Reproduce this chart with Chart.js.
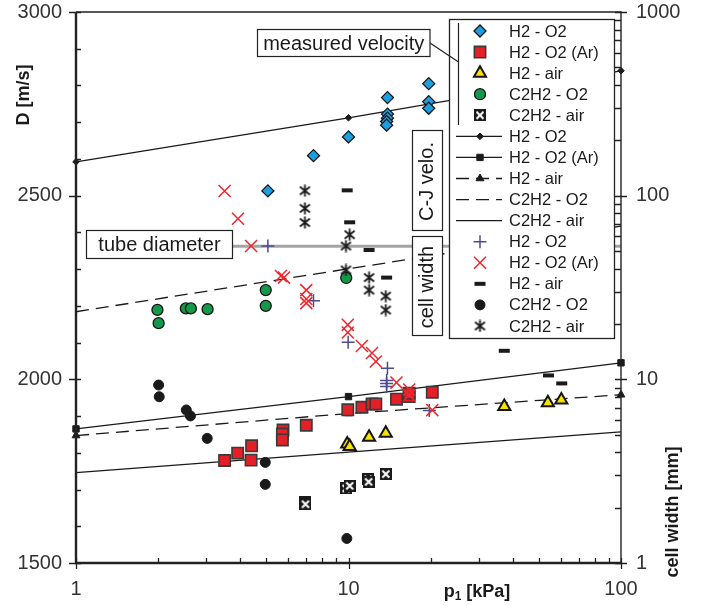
<!DOCTYPE html>
<html>
<head>
<meta charset="utf-8">
<script src="https://cdn.jsdelivr.net/npm/chart.js@4.4.0/dist/chart.umd.min.js"></script>
<style>
  html, body { margin: 0; padding: 0; background: #fff; }
  #chart { display: block; }
</style>
</head>
<body>
<canvas id="chart" width="707" height="606"></canvas>
<script>
const FONT = '"Liberation Sans", Arial, sans-serif';

// C-J velocities at 1, 10 and 100 kPa
const cjP = [1, 10, 100];
const cjH2O2 = [2592, 2712, 2840];
const cjH2O2Ar = [1865, 1953, 2045];
const cjH2Air = [1847, 1907, 1958];
const cjC2H2O2 = [2184, 2301, 2417];
const cjC2H2Air = [1746, 1802, 1857];

// measured detonation velocity [m/s] vs p1 [kPa]
const velH2O2P = [5.06, 7.44, 10.0, 13.9, 13.9, 13.9, 13.8, 13.8, 19.7, 19.7, 19.7];
const velH2O2 = [2513, 2609, 2660, 2767, 2722, 2711, 2702, 2692, 2805, 2756, 2738];
const velH2O2ArP = [3.51, 3.92, 4.39, 4.41, 5.75, 5.72, 5.72, 7.0, 9.94, 11.2, 12.2, 12.6, 15.0, 16.7, 16.7, 20.3];
const velH2O2Ar = [1779, 1799, 1780, 1819, 1862, 1851, 1835, 1875, 1917, 1924, 1933, 1933, 1946, 1953, 1962, 1965];
const velH2AirP = [9.89, 10.1, 11.9, 13.7, 37.3, 53.9, 60.4];
const velH2Air = [1824, 1817, 1842, 1853, 1926, 1936, 1944];
const velC2H2O2P = [1.99, 2.01, 2.53, 2.64, 3.04, 4.97, 4.97, 9.81];
const velC2H2O2 = [2189, 2153, 2193, 2193, 2191, 2243, 2200, 2276];
const velC2H2AirP = [6.9, 6.95, 9.8, 10.1, 11.8, 11.85, 13.7];
const velC2H2Air = [1665, 1660, 1703, 1710, 1728, 1721, 1742];

// cell width [mm] vs p1 [kPa]
const cellH2O2P = [5.06, 7.44, 9.97, 13.9, 13.8, 13.8, 13.8, 19.8];
const cellH2O2 = [53.2, 26.8, 15.9, 11.5, 9.85, 9.5, 9.15, 6.77];
const cellH2O2ArP = [3.51, 3.93, 4.39, 5.65, 5.8, 7.0, 7.0, 7.0, 9.94, 9.94, 11.2, 12.2, 12.6, 15.0, 16.7, 16.7, 20.3];
const cellH2O2Ar = [106, 74.9, 53.2, 36.5, 35.8, 30.6, 27.4, 26.0, 19.8, 18.0, 15.2, 13.9, 12.5, 9.6, 8.8, 8.2, 6.8];
const cellH2AirP = [9.89, 10.1, 11.9, 13.8, 37.3, 54.2, 60.6];
const cellH2Air = [106.9, 71.6, 50.6, 35.8, 14.3, 10.5, 9.5];
const cellC2H2O2P = [2.01, 2.02, 2.54, 2.63, 3.03, 4.95, 4.95, 9.86];
const cellC2H2O2 = [9.31, 8.04, 6.81, 6.32, 4.77, 3.53, 2.68, 1.36];
const cellC2H2AirP = [6.92, 6.92, 6.92, 10.1, 9.79, 9.79, 11.9, 11.9, 13.7, 13.7];
const cellC2H2Air = [106.4, 85.3, 71.4, 61.3, 53.2, 39.4, 35.8, 30.6, 28.4, 23.85];

// tube diameter [mm]
const tubeP = [3.7, 100];
const tubeDiameter = 53;

const xTicks = [1, 10, 100];
const yTicks = [1500, 2000, 2500, 3000];
const y2Ticks = [1, 10, 100, 1000];

function pts(xs, ys) {
  return xs.map((x, i) => ({ x: x, y: ys[i] }));
}

// black square with a white cross
function boxCross() {
  const c = document.createElement('canvas');
  c.width = 12; c.height = 12;
  const g = c.getContext('2d');
  g.fillStyle = '#1a1a1a';
  g.fillRect(0, 0, 12, 12);
  g.strokeStyle = '#fff';
  g.lineWidth = 2;
  g.beginPath();
  g.moveTo(2.5, 2.5); g.lineTo(9.5, 9.5);
  g.moveTo(9.5, 2.5); g.lineTo(2.5, 9.5);
  g.stroke();
  return c;
}

// six-spoke asterisk
function asterisk() {
  const c = document.createElement('canvas');
  c.width = 13; c.height = 13;
  const g = c.getContext('2d');
  g.strokeStyle = '#1a1a1a';
  g.lineWidth = 1.8;
  g.beginPath();
  g.moveTo(6.5, 0.5); g.lineTo(6.5, 12.5);
  g.moveTo(1.5, 2.5); g.lineTo(11.5, 10.5);
  g.moveTo(11.5, 2.5); g.lineTo(1.5, 10.5);
  g.stroke();
  return c;
}

function marks(label, xs, ys, axis, style) {
  return Object.assign({
    label: label,
    data: pts(xs, ys),
    yAxisID: axis,
    showLine: false,
    clip: false
  }, style);
}

function cjLine(label, ys, style) {
  return Object.assign({
    label: label,
    data: pts(cjP, ys),
    yAxisID: 'y',
    showLine: true,
    clip: false,
    borderColor: '#1a1a1a',
    borderWidth: 1.3,
    pointRadius: 0,
    pointBackgroundColor: '#1a1a1a',
    pointBorderColor: '#1a1a1a',
    pointBorderWidth: 1,
    order: 20
  }, style);
}

const datasets = [
  marks('H2 - O2', velH2O2P, velH2O2, 'y', {
    pointStyle: 'rectRot', pointRadius: 6, pointBackgroundColor: '#1a9fe0',
    pointBorderColor: '#151515', pointBorderWidth: 1.3, order: 5 }),
  marks('H2 - O2 (Ar)', velH2O2ArP, velH2O2Ar, 'y', {
    pointStyle: 'rect', pointRadius: 8, pointBackgroundColor: '#e51f26',
    pointBorderColor: '#3a3a3a', pointBorderWidth: 1.6, order: 6 }),
  marks('H2 - air', velH2AirP, velH2Air, 'y', {
    pointStyle: 'triangle', pointRadius: 7, pointBackgroundColor: '#f6e400',
    pointBorderColor: '#151515', pointBorderWidth: 2, order: 5 }),
  marks('C2H2 - O2', velC2H2O2P, velC2H2O2, 'y', {
    pointStyle: 'circle', pointRadius: 5.5, pointBackgroundColor: '#14984a',
    pointBorderColor: '#151515', pointBorderWidth: 1.3, order: 5 }),
  marks('C2H2 - air', velC2H2AirP, velC2H2Air, 'y', {
    pointStyle: boxCross(), pointRadius: 6, order: 5 }),

  cjLine('H2 - O2', cjH2O2, { pointStyle: 'rectRot', pointRadius: 3.3 }),
  cjLine('H2 - O2 (Ar)', cjH2O2Ar, { pointStyle: 'rect', pointRadius: 4.5 }),
  cjLine('H2 - air', cjH2Air, { pointStyle: 'triangle', pointRadius: 4.5, borderDash: [13, 7] }),
  cjLine('C2H2 - O2', cjC2H2O2, { borderDash: [13, 7] }),
  cjLine('C2H2 - air', cjC2H2Air, {}),

  marks('H2 - O2', cellH2O2P, cellH2O2, 'y2', {
    pointStyle: 'cross', pointRadius: 6.5, pointBorderColor: '#4b4b8e',
    pointBorderWidth: 1.5, order: 2 }),
  marks('H2 - O2 (Ar)', cellH2O2ArP, cellH2O2Ar, 'y2', {
    pointStyle: 'crossRot', pointRadius: 8.5, pointBorderColor: '#ef262c',
    pointBorderWidth: 1.5, order: 1 }),
  marks('H2 - air', cellH2AirP, cellH2Air, 'y2', {
    pointStyle: 'line', pointRadius: 5.5, pointBorderColor: '#1a1a1a',
    pointBorderWidth: 4, order: 2 }),
  marks('C2H2 - O2', cellC2H2O2P, cellC2H2O2, 'y2', {
    pointStyle: 'circle', pointRadius: 5, pointBackgroundColor: '#1a1a1a',
    pointBorderColor: '#1a1a1a', pointBorderWidth: 1, order: 2 }),
  marks('C2H2 - air', cellC2H2AirP, cellC2H2Air, 'y2', {
    pointStyle: asterisk(), pointRadius: 6, order: 2 }),

  {
    label: 'tube diameter',
    data: pts(tubeP, tubeP.map(() => tubeDiameter)),
    yAxisID: 'y2',
    showLine: true,
    pointRadius: 0,
    borderColor: '#a4a4a4',
    borderWidth: 3,
    order: 30
  }
];

// axes frame with inside/outside tick marks
const axesFrame = {
  id: 'axesFrame',
  afterDatasetsDraw(chart) {
    const ctx = chart.ctx;
    const a = chart.chartArea;
    const sx = chart.scales.x, sy = chart.scales.y, sy2 = chart.scales.y2;
    ctx.save();
    ctx.strokeStyle = '#222';
    ctx.lineWidth = 1.4;
    ctx.beginPath();
    ctx.moveTo(a.left, a.top); ctx.lineTo(a.right, a.top); ctx.lineTo(a.right, a.bottom);
    ctx.stroke();
    ctx.lineWidth = 2.4;
    ctx.beginPath();
    ctx.moveTo(a.left, a.top); ctx.lineTo(a.left, a.bottom); ctx.lineTo(a.right, a.bottom);
    ctx.stroke();

    ctx.lineWidth = 1.3;
    ctx.beginPath();
    for (let v = 1500; v <= 3000; v += 100) {
      const y = Math.round(sy.getPixelForValue(v)) + 0.5;
      const major = v % 500 === 0;
      ctx.moveTo(a.left - (major ? 7 : 0), y);
      ctx.lineTo(a.left + 5, y);
    }
    for (let d = 1; d < 100; d *= 10) {
      for (let m = 1; m < 10; m++) {
        const x = Math.round(sx.getPixelForValue(d * m)) + 0.5;
        ctx.moveTo(x, a.bottom + (m === 1 ? 6 : 0));
        ctx.lineTo(x, a.bottom - 5);
      }
    }
    const x100 = Math.round(sx.getPixelForValue(100)) + 0.5;
    ctx.moveTo(x100, a.bottom + 6); ctx.lineTo(x100, a.bottom - 5);
    for (let d = 1; d < 1000; d *= 10) {
      for (let m = 1; m < 10; m++) {
        const y = Math.round(sy2.getPixelForValue(d * m)) + 0.5;
        ctx.moveTo(a.right - 6, y);
        ctx.lineTo(a.right + (m === 1 ? 6 : 0), y);
      }
    }
    const y1000 = Math.round(sy2.getPixelForValue(1000)) + 0.5;
    ctx.moveTo(a.right - 6, y1000); ctx.lineTo(a.right + 6, y1000);
    ctx.stroke();
    ctx.restore();
  }
};

function textBox(ctx, x, y, w, h, text, vertical) {
  ctx.fillStyle = '#fff';
  ctx.fillRect(x, y, w, h);
  ctx.strokeStyle = '#222';
  ctx.lineWidth = 1.2;
  ctx.strokeRect(x, y, w, h);
  ctx.save();
  ctx.translate(x + w / 2, y + h / 2 + 1);
  if (vertical) ctx.rotate(-Math.PI / 2);
  ctx.fillStyle = '#1a1a1a';
  ctx.font = '20px ' + FONT;
  ctx.textAlign = 'center';
  ctx.textBaseline = 'middle';
  ctx.fillText(text, 0, 0);
  ctx.restore();
}

// labels, legend and axis titles
const notes = {
  id: 'notes',
  afterDraw(chart) {
    const ctx = chart.ctx;
    ctx.save();

    // legend
    const lx = 449.5, ly = 19.5, lw = 165, lh = 319;
    ctx.fillStyle = '#fff';
    ctx.fillRect(lx, ly, lw, lh);
    ctx.strokeStyle = '#222';
    ctx.lineWidth = 1.3;
    ctx.strokeRect(lx, ly, lw, lh);

    ctx.font = '16.5px ' + FONT;
    ctx.textBaseline = 'middle';
    ctx.textAlign = 'left';
    for (let i = 0; i < 15; i++) {
      const ds = chart.data.datasets[i];
      const y = 31 + i * 21.07;
      if (ds.showLine) {
        ctx.save();
        ctx.strokeStyle = ds.borderColor;
        ctx.lineWidth = ds.borderWidth;
        ctx.setLineDash(ds.borderDash || []);
        ctx.beginPath();
        ctx.moveTo(456, y); ctx.lineTo(502, y);
        ctx.stroke();
        ctx.restore();
      }
      if (ds.pointRadius > 0) {
        ctx.save();
        ctx.fillStyle = ds.pointBackgroundColor || '#000';
        ctx.strokeStyle = ds.pointBorderColor || '#000';
        ctx.lineWidth = ds.pointBorderWidth || 1;
        Chart.helpers.drawPoint(ctx, {
          pointStyle: ds.pointStyle,
          radius: ds.pointRadius,
          rotation: 0,
          borderWidth: ds.pointBorderWidth || 0
        }, 480, y);
        ctx.restore();
      }
      ctx.fillStyle = '#1a1a1a';
      ctx.fillText(ds.label, 509, y + 1);
    }

    // bracket for the measured velocity group
    ctx.strokeStyle = '#222';
    ctx.lineWidth = 1.2;
    ctx.beginPath();
    ctx.moveTo(458.5, 23); ctx.lineTo(458.5, 125);
    ctx.moveTo(430, 43); ctx.lineTo(458.5, 62);
    ctx.stroke();

    textBox(ctx, 257.5, 29.5, 172.5, 27, 'measured velocity', false);
    textBox(ctx, 86.5, 230.5, 146, 28, 'tube diameter', false);
    textBox(ctx, 412.5, 130.5, 30, 100, 'C-J velo.', true);
    textBox(ctx, 412.5, 236.5, 30, 99, 'cell width', true);

    // axis titles
    ctx.fillStyle = '#1a1a1a';
    ctx.textAlign = 'center';
    ctx.textBaseline = 'middle';
    ctx.font = 'bold 18px ' + FONT;
    ctx.save();
    ctx.translate(24, 95);
    ctx.rotate(-Math.PI / 2);
    ctx.fillText('D [m/s]', 0, 0);
    ctx.restore();
    ctx.save();
    ctx.translate(673, 512);
    ctx.rotate(-Math.PI / 2);
    ctx.fillText('cell width [mm]', 0, 0);
    ctx.restore();

    const big = 'bold 18px ' + FONT, small = 'bold 12px ' + FONT;
    ctx.textAlign = 'left';
    ctx.textBaseline = 'alphabetic';
    ctx.font = big;
    const wp = ctx.measureText('p').width;
    const wr = ctx.measureText(' [kPa]').width;
    ctx.font = small;
    const w1 = ctx.measureText('1').width;
    let x = 477 - (wp + w1 + wr) / 2;
    const base = 597;
    ctx.font = big;
    ctx.fillText('p', x, base);
    x += wp;
    ctx.font = small;
    ctx.fillText('1', x, base + 3);
    x += w1;
    ctx.font = big;
    ctx.fillText(' [kPa]', x, base);
    ctx.restore();
  }
};

const tickFont = { family: FONT, size: 20 };

// keep the plot box fixed: no extra room for overhanging tick labels
function noOverhang(s) {
  s.paddingTop = 0;
  s.paddingBottom = 0;
  s.paddingLeft = 0;
  s.paddingRight = 0;
}

new Chart(document.getElementById('chart'), {
  type: 'scatter',
  data: { datasets: datasets },
  options: {
    responsive: false,
    devicePixelRatio: 1,
    animation: false,
    events: [],
    layout: { padding: { top: 12, left: 0, right: 0, bottom: 0 } },
    plugins: { legend: { display: false }, tooltip: { enabled: false } },
    scales: {
      x: {
        type: 'logarithmic',
        position: 'bottom',
        min: 1,
        max: 100,
        grid: { display: false, drawTicks: false },
        border: { display: false },
        ticks: { font: tickFont, color: '#333', padding: 14, maxRotation: 0,
          callback: v => String(v) },
        afterBuildTicks: s => { s.ticks = xTicks.map(v => ({ value: v })); },
        afterFit: s => { s.height = 43; noOverhang(s); }
      },
      y: {
        type: 'linear',
        position: 'left',
        min: 1500,
        max: 3000,
        grid: { display: false, drawTicks: false },
        border: { display: false },
        ticks: { font: tickFont, color: '#333', padding: 14,
          callback: v => String(v) },
        afterBuildTicks: s => { s.ticks = yTicks.map(v => ({ value: v })); },
        afterFit: s => { s.width = 76; noOverhang(s); }
      },
      y2: {
        type: 'logarithmic',
        position: 'right',
        min: 1,
        max: 1000,
        grid: { display: false, drawTicks: false },
        border: { display: false },
        ticks: { font: tickFont, color: '#333', padding: 15,
          callback: v => String(v) },
        afterBuildTicks: s => { s.ticks = y2Ticks.map(v => ({ value: v })); },
        afterFit: s => { s.width = 86; noOverhang(s); }
      }
    }
  },
  plugins: [axesFrame, notes]
});
</script>
</body>
</html>
